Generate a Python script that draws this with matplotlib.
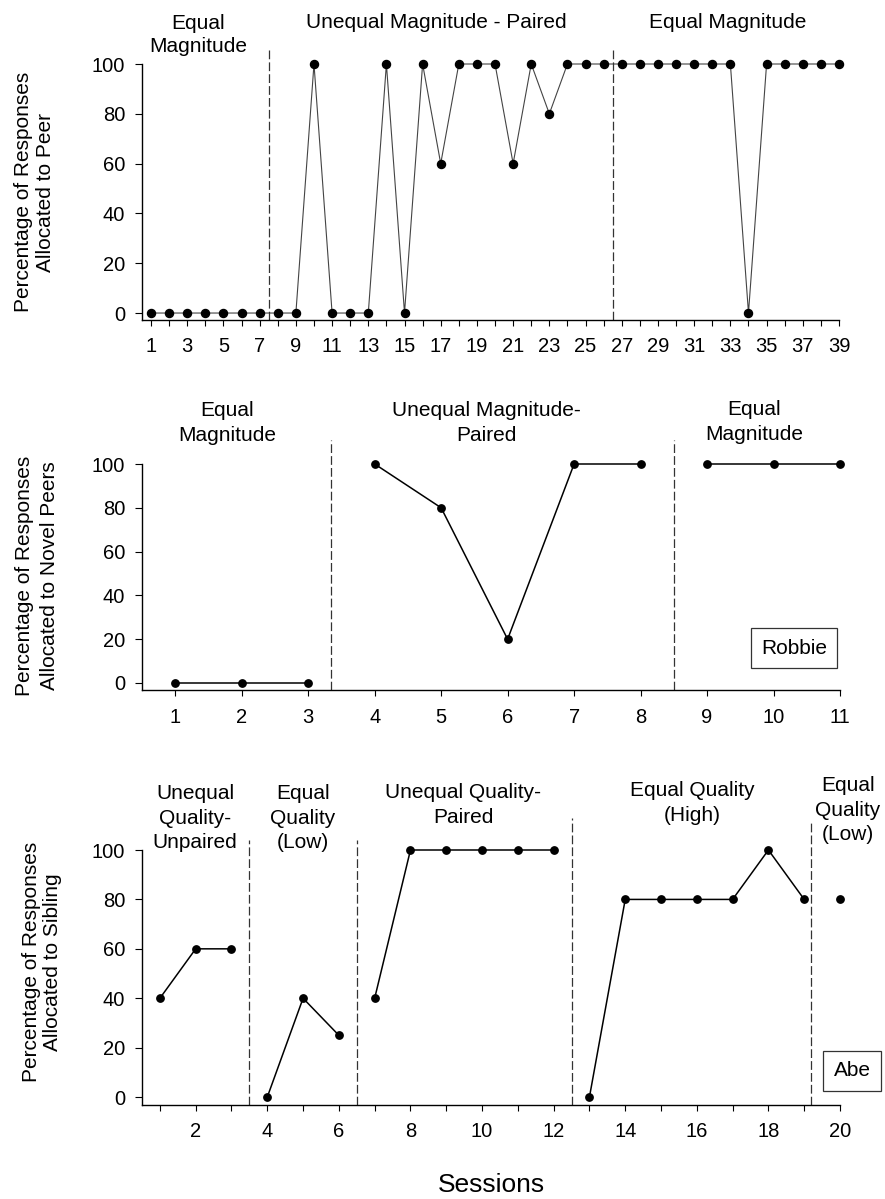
import matplotlib
matplotlib.use("Agg")
import matplotlib.pyplot as plt

plt.rcParams['font.family'] = ['Liberation Sans', 'DejaVu Sans']

# top panel: allocation to peer
peer_sessions = list(range(1, 40))
peer_pct = [0, 0, 0, 0, 0, 0, 0, 0, 0, 100, 0, 0, 0, 100, 0, 100, 60, 100, 100, 100,
            60, 100, 80, 100, 100, 100, 100, 100, 100, 100, 100, 100, 100, 0, 100,
            100, 100, 100, 100]
peer_phase_lines = [7.5, 26.5]
peer_labels = ["Equal\nMagnitude", "Unequal Magnitude - Paired", "Equal Magnitude"]

# middle panel: allocation to novel peers (Robbie)
novel_phases = [[1, 2, 3], [4, 5, 6, 7, 8], [9, 10, 11]]
novel_pct = [[0, 0, 0], [100, 80, 20, 100, 100], [100, 100, 100]]
novel_phase_lines = [3.35, 8.5]
novel_labels = ["Equal\nMagnitude", "Unequal Magnitude-\nPaired", "Equal\nMagnitude"]

# bottom panel: allocation to sibling (Abe)
sib_phases = [[1, 2, 3], [4, 5, 6], [7, 8, 9, 10, 11, 12],
              [13, 14, 15, 16, 17, 18, 19], [20]]
sib_pct = [[40, 60, 60], [0, 40, 25], [40, 100, 100, 100, 100, 100],
           [0, 80, 80, 80, 80, 100, 80], [80]]
sib_phase_lines = [3.5, 6.5, 12.5, 19.2]
sib_labels = ["Unequal\nQuality-\nUnpaired", "Equal\nQuality\n(Low)",
              "Unequal Quality-\nPaired", "Equal Quality\n(High)", "Equal\nQuality\n(Low)"]

W, H = 885, 1199
fig = plt.figure(figsize=(W / 100, H / 100), dpi=100)


def px_axes(left, right, top, bottom):
    return fig.add_axes([left / W, 1 - bottom / H, (right - left) / W, (bottom - top) / H])


def style(ax, xmin, xmax, ymin, xticks, xticklabels, xpad):
    ax.set_xlim(xmin, xmax)
    ax.set_ylim(ymin, 100)
    for s in ['top', 'right']:
        ax.spines[s].set_visible(False)
    for s in ['left', 'bottom']:
        ax.spines[s].set_linewidth(1.0)
    ax.set_yticks([0, 20, 40, 60, 80, 100])
    ax.set_xticks(xticks)
    ax.set_xticklabels(xticklabels)
    ax.tick_params(axis='y', length=5, width=0.8, pad=7, labelsize=14.5)
    ax.tick_params(axis='x', length=4, width=0.8, pad=xpad, labelsize=14.5)


def phase_line(ax, x, ytop):
    ax.plot([x, x], [ax.get_ylim()[0], ytop], color='#333333', lw=0.9,
            dashes=(7, 2.5), clip_on=False)


def label(x, y, s, ls=1.15, size=15):
    fig.text(x / W, 1 - y / H, s, ha='center', va='center', fontsize=size, linespacing=ls)


box = dict(boxstyle='square,pad=0.5', facecolor='white', edgecolor='#333333', lw=0.9)

# ---- top panel
ax1 = px_axes(142, 839, 64, 320)
ax1.plot(peer_sessions, peer_pct, color='#444444', lw=0.8, marker='o',
         markersize=5.8, markerfacecolor='black', markeredgecolor='black', clip_on=False)
style(ax1, 0.5, 39, -2.8, peer_sessions,
      [str(s) if s % 2 == 1 else '' for s in peer_sessions], 8)
for x in peer_phase_lines:
    phase_line(ax1, x, 106.5)
label(198, 35, peer_labels[0], ls=1.25)
label(436, 23, peer_labels[1])
label(728, 23, peer_labels[2])
fig.text(35 / W, 1 - 192 / H, "Percentage of Responses\nAllocated to Peer",
         rotation=90, ha='center', va='center', fontsize=15, linespacing=1.2)

# ---- middle panel
ax2 = px_axes(142, 840, 464, 690)
for xs, ys in zip(novel_phases, novel_pct):
    ax2.plot(xs, ys, color='black', lw=1.1, marker='o', markersize=5.3, clip_on=False)
style(ax2, 0.5, 11, -3.2, list(range(1, 12)), [str(i) for i in range(1, 12)], 9)
for x in novel_phase_lines:
    phase_line(ax2, x, 111)
label(227, 423, novel_labels[0], ls=1.45)
label(486, 423, novel_labels[1], ls=1.45)
label(754, 422, novel_labels[2], ls=1.4)
fig.text(37 / W, 1 - 576 / H, "Percentage of Responses\nAllocated to Novel Peers",
         rotation=90, ha='center', va='center', fontsize=15, linespacing=1.45)
fig.text(794 / W, 1 - 648 / H, "Robbie", ha='center', va='center', fontsize=15, bbox=box)

# ---- bottom panel
ax3 = px_axes(142, 840, 850, 1105)
for xs, ys in zip(sib_phases, sib_pct):
    ax3.plot(xs, ys, color='black', lw=1.1, marker='o', markersize=5.3, clip_on=False)
sib_ticks = list(range(1, 21))
style(ax3, 0.5, 20, -3.2, sib_ticks,
      [str(s) if s % 2 == 0 else '' for s in sib_ticks], 8.5)
for x, top in zip(sib_phase_lines, [104, 104, 113, 111]):
    phase_line(ax3, x, top)
label(195, 818, sib_labels[0], ls=1.35)
label(303, 818, sib_labels[1], ls=1.35)
label(463, 805, sib_labels[2], ls=1.35)
label(692, 803, sib_labels[3], ls=1.35)
label(848, 810, sib_labels[4], ls=1.35)
fig.text(42 / W, 1 - 962 / H, "Percentage of Responses\nAllocated to Sibling",
         rotation=90, ha='center', va='center', fontsize=15, linespacing=1.15)
fig.text(852 / W, 1 - 1071 / H, "Abe", ha='center', va='center', fontsize=15, bbox=box)

fig.text(491 / W, 1 - 1185 / H, "Sessions", ha='center', va='center', fontsize=19)

fig.savefig('out.png', dpi=100)
